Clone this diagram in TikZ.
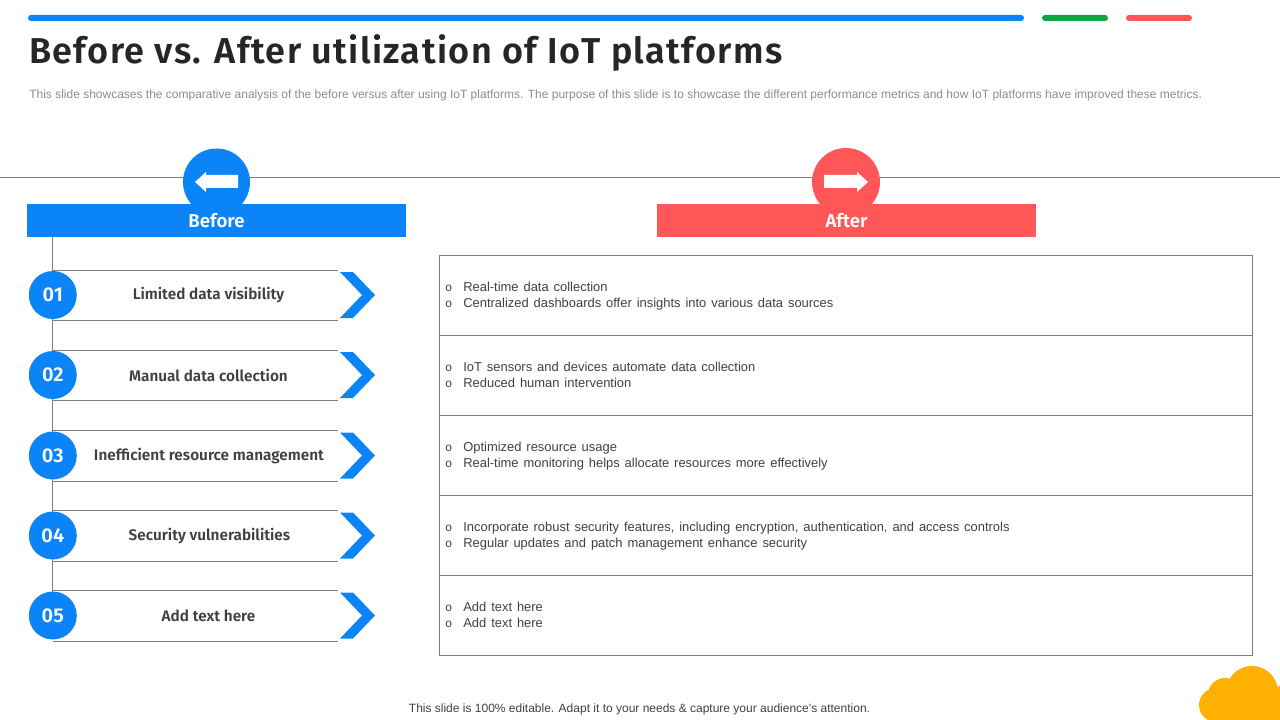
\documentclass[tikz,border=0pt]{standalone}
\usepackage{xcolor}
\usepackage{fontspec}
\setmainfont{Liberation Sans}
\newfontfamily\headfont{Fira Sans SemiBold}
\newfontfamily\titlefont[LetterSpace=3.85]{Fira Sans SemiBold}
\definecolor{blueish}{HTML}{0A84F7}
\definecolor{redish}{HTML}{FF5757}
\definecolor{greenish}{HTML}{0BA640}
\definecolor{cloudish}{HTML}{FFB000}
\definecolor{lineish}{HTML}{7F7F7F}
\definecolor{textish}{HTML}{404040}
\definecolor{noteish}{HTML}{8C8C8C}
\newcommand{\bul}{\spaceskip=3.7pt\relax\rule[-2.85pt]{0pt}{12pt}\makebox[13.5pt][l]{\fontsize{9}{9}\selectfont o}}

\begin{document}
\begin{tikzpicture}[x=0.75pt,y=-0.75pt,
    every node/.style={align=center},
    headbar/.style={minimum width=284.25pt,minimum height=24.75pt,inner sep=0pt,text=white,font=\headfont\fontsize{14}{16}\selectfont},
    numdot/.style={shape=circle,fill=blueish,minimum size=36pt,inner sep=0pt,text=white,font=\headfont\fontsize{15}{17}\selectfont},
    rowbox/.style={minimum width=213.75pt,minimum height=37.5pt,inner sep=0pt},
    rowtext/.style={text=textish,font=\headfont\fontsize{11.5}{14}\selectfont},
    chevron/.style={fill=blueish},
    cell/.style={draw=lineish,line width=0.6pt,minimum height=60pt,text width=601pt,inner xsep=4.5pt,inner ysep=0pt,align=left,text=textish,font=\fontsize{9.7}{12}\selectfont}]
    \useasboundingbox (0,0) rectangle (1280,720);
    % bars on top
    \fill[blueish,rounded corners=2.2pt] (28,15) rectangle (1024,21);
    \fill[greenish,rounded corners=2.2pt] (1042,15) rectangle (1108,21);
    \fill[redish,rounded corners=2.2pt] (1126,15) rectangle (1192,21);
    \node[anchor=west,inner sep=0pt,text=black!85,font=\titlefont\fontsize{27}{30}\selectfont] (title) at (29,53) {Before vs. After utilization of IoT platforms};
    \node[anchor=west,inner sep=0pt,text=noteish,font=\fontsize{9}{11}\selectfont] (note) at (29,95.5) {This slide showcases the comparative analysis of the before versus after using IoT platforms. The purpose of this slide is to showcase the different performance metrics and how IoT platforms have improved these metrics.};
    % heads
    \coordinate (ruleL) at (0,177.5);
    \coordinate (ruleR) at (1280,177.5);
    \draw[lineish,line width=0.7pt] (ruleL) -- (ruleR);
    \fill[blueish] (216.5,182) circle (33.5);
    \fill[redish] (846,182) circle (34);
    \fill[white] (195,182) -- (206,172) -- (206,175) -- (238,175) -- (238,188) -- (206,188) -- (206,192) -- cycle;
    \fill[white] (868,182) -- (857,172) -- (857,175) -- (824,175) -- (824,188) -- (857,188) -- (857,192) -- cycle;
    \node[headbar,fill=blueish] (before) at (216.5,220.5) {Before};
    \node[headbar,fill=redish] (after) at (846.5,220.5) {After};
    % rows on the left
    \node[rowbox] (box1) at (195.5,295.5) {};
    \node[rowbox] (box2) at (195.5,375.5) {};
    \node[rowbox] (box3) at (195.5,456) {};
    \node[rowbox] (box4) at (195.5,536) {};
    \node[rowbox] (box5) at (195.5,616) {};
    \draw[lineish,line width=0.7pt] (before.south -| box1.west) -- (box5.west);
    \draw[lineish,line width=0.7pt] (box1.north west) -- (box1.north east) (box1.south west) -- (box1.south east);
    \draw[lineish,line width=0.7pt] (box2.north west) -- (box2.north east) (box2.south west) -- (box2.south east);
    \draw[lineish,line width=0.7pt] (box3.north west) -- (box3.north east) (box3.south west) -- (box3.south east);
    \draw[lineish,line width=0.7pt] (box4.north west) -- (box4.north east) (box4.south west) -- (box4.south east);
    \draw[lineish,line width=0.7pt] (box5.north west) -- (box5.north east) (box5.south west) -- (box5.south east);
    \fill[chevron] (340,272) -- (353,272) -- (375,295) -- (353,318) -- (340,318) -- (362,295) -- cycle;
    \fill[chevron] (340,352) -- (353,352) -- (375,375) -- (353,398) -- (340,398) -- (362,375) -- cycle;
    \fill[chevron] (340,432.5) -- (353,432.5) -- (375,455.5) -- (353,478.5) -- (340,478.5) -- (362,455.5) -- cycle;
    \fill[chevron] (340,512.5) -- (353,512.5) -- (375,535.5) -- (353,558.5) -- (340,558.5) -- (362,535.5) -- cycle;
    \fill[chevron] (340,592.5) -- (353,592.5) -- (375,615.5) -- (353,638.5) -- (340,638.5) -- (362,615.5) -- cycle;
    \node[numdot] (num1) at (52.8,295) {01};
    \node[numdot] (num2) at (52.8,375) {02};
    \node[numdot] (num3) at (52.8,455.5) {03};
    \node[numdot] (num4) at (52.8,535.5) {04};
    \node[numdot] (num5) at (52.8,615.5) {05};
    \node[rowtext] (txt1) at (208.5,295) {Limited data visibility};
    \node[rowtext] (txt2) at (208.5,375) {Manual data collection};
    \node[rowtext] (txt3) at (209,456) {Inefficient resource management};
    \node[rowtext] (txt4) at (209.5,536) {Security vulnerabilities};
    \node[rowtext] (txt5) at (208.5,616) {Add text here};
    % cells on the right
    \node[cell] (cell1) at (846,295) {\bul Real-time data collection\\ \bul Centralized dashboards offer insights into various data sources};
    \node[cell] (cell2) at (846,375) {\bul IoT sensors and devices automate data collection\\ \bul Reduced human intervention};
    \node[cell] (cell3) at (846,455) {\bul Optimized resource usage\\ \bul Real-time monitoring helps allocate resources more effectively};
    \node[cell] (cell4) at (846,535) {\bul Incorporate robust security features, including encryption, authentication, and access controls\\ \bul Regular updates and patch management enhance security};
    \node[cell] (cell5) at (846,615) {\bul Add text here\\ \bul Add text here};
    % footer and cloud
    \node[inner sep=0pt,text=textish,font=\fontsize{9}{11}\selectfont] (foot) at (639.5,709) {This slide is 100\% editable. Adapt it to your needs \& capture your audience's attention.};
    \begin{scope}
        \clip (1160,640) rectangle (1280,720);
        \fill[cloudish] (1252,692) circle (26);
        \fill[cloudish] (1225,695) circle (17);
        \fill[cloudish] (1216,705) circle (17);
        \fill[cloudish] (1290,712) circle (28);
        \fill[cloudish] (1216,700) rectangle (1280,720);
    \end{scope}
\end{tikzpicture}
\end{document}
